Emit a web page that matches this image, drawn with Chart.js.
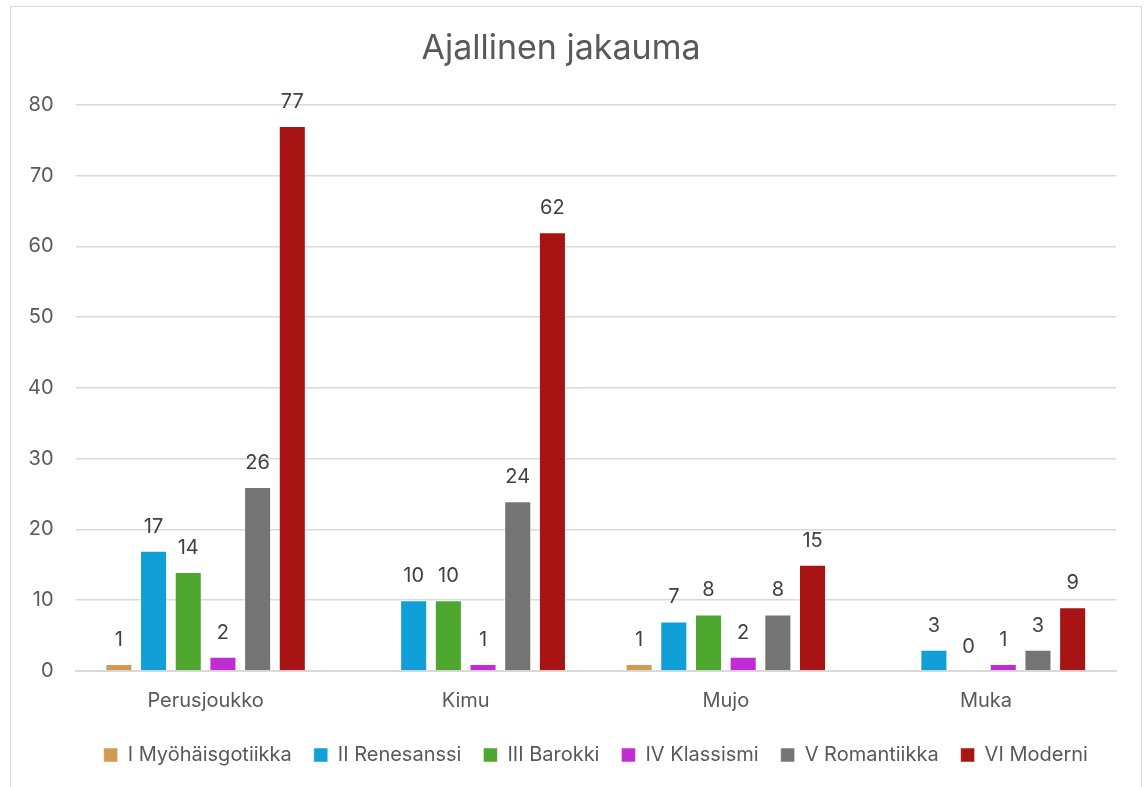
<!DOCTYPE html>
<html>
<head>
<meta charset="utf-8">
<script src="https://cdn.jsdelivr.net/npm/chart.js@4"></script>
<style>
  html, body { margin: 0; padding: 0; background: #ffffff; overflow: hidden; }
  #frame {
    position: absolute; left: 10px; top: 6px; width: 1132px; height: 800px;
    border: 1px solid #d9d9d9; box-sizing: border-box;
  }
  #wrap { position: absolute; left: 0; top: 0; width: 1144px; height: 787px; }
</style>
</head>
<body>
<div id="frame"></div>
<div id="wrap"><canvas id="chart" width="1144" height="787"></canvas></div>
<script>
/* --------------- Data --------------------- */
const categories = ["Perusjoukko", "Kimu", "Mujo", "Muka"];
const seriesNames = ["I Myöhäisgotiikka", "II Renesanssi", "III Barokki", "IV Klassismi", "V Romantiikka", "VI Moderni"];
const myohaisgotiikka = [1, null, 1, null];
const renesanssi = [17, 10, 7, 3];
const barokki = [14, 10, 8, 0];
const klassismi = [2, 1, 2, 1];
const romantiikka = [26, 24, 8, 3];
const moderni = [77, 62, 15, 9];
const yTicks = [0, 10, 20, 30, 40, 50, 60, 70, 80];

/* --------------- Colors --------------------- */
const colors = ["#d09b50", "#109fd6", "#4ea72e", "#c22dd3", "#747474", "#a81313"];
const FONT = "Inter, 'Noto Sans', sans-serif";

const seriesValues = [myohaisgotiikka, renesanssi, barokki, klassismi, romantiikka, moderni];

/* --------------- Value labels above bars --------------------- */
const barLabels = {
    id: "barLabels",
    afterDatasetsDraw(chart) {
        const ctx = chart.ctx;
        ctx.save();
        ctx.font = "20px " + FONT;
        ctx.fillStyle = "#404040";
        ctx.textAlign = "center";
        ctx.textBaseline = "alphabetic";
        chart.data.datasets.forEach((ds, i) => {
            chart.getDatasetMeta(i).data.forEach((bar, j) => {
                const v = ds.data[j];
                if (v === null || v === undefined) return;
                ctx.fillText(String(v), bar.x, bar.y - 18);
            });
        });
        ctx.restore();
    },
};

new Chart(document.getElementById("chart"), {
    type: "bar",
    plugins: [barLabels],
    data: {
        labels: categories,
        datasets: seriesNames.map((name, i) => ({
            label: name,
            data: seriesValues[i],
            backgroundColor: colors[i],
            borderColor: "rgba(255,255,255,0.5)",
            borderWidth: 1,
            barPercentage: 0.78,
            categoryPercentage: 0.8,
        })),
    },
    options: {
        responsive: false,
        animation: false,
        layout: { padding: { left: 6, right: 28, top: 10, bottom: 12 } },
        plugins: {
            tooltip: { enabled: false },
            title: {
                display: true,
                text: "Ajallinen jakauma",
                color: "#595959",
                font: { family: FONT, size: 34, weight: "normal" },
                padding: { top: 18, bottom: 36 },
            },
            legend: {
                position: "bottom",
                fullSize: false,
                labels: {
                    color: "#595959",
                    font: { family: FONT, size: 20 },
                    boxWidth: 14,
                    boxHeight: 14,
                    padding: 22,
                },
            },
        },
        scales: {
            x: {
                grid: { display: false },
                border: { color: "#d9d9d9", width: 2 },
                ticks: { color: "#595959", font: { family: FONT, size: 20 }, padding: 10 },
            },
            y: {
                min: 0,
                max: 80,
                afterBuildTicks: (axis) => { axis.ticks = yTicks.map((v) => ({ value: v })); },
                grid: { color: "#d9d9d9", lineWidth: 1.5, drawTicks: false },
                border: { display: false },
                ticks: { color: "#595959", font: { family: FONT, size: 20 }, padding: 22 },
            },
        },
    },
});
</script>
</body>
</html>
